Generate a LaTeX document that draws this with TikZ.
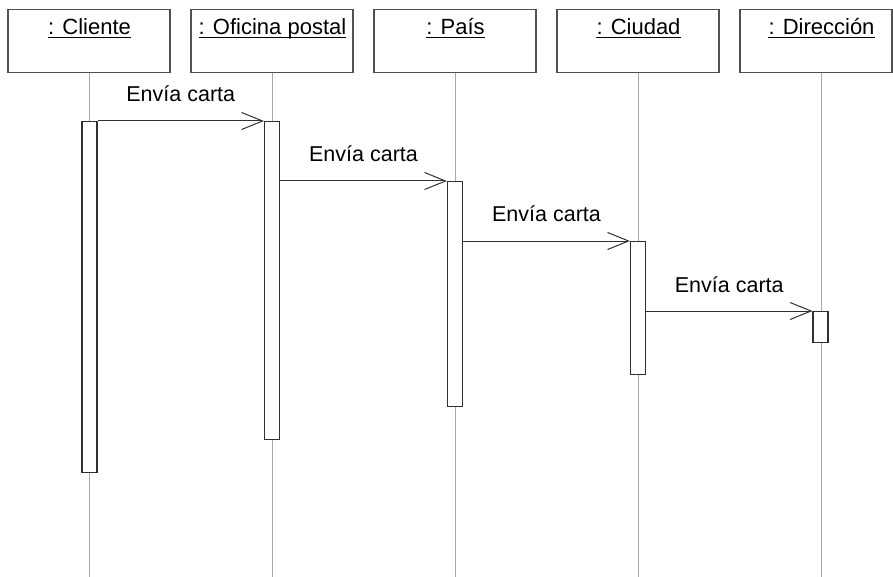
\documentclass[tikz,border=0pt]{standalone}
\usepackage{fontspec}
\setmainfont{Liberation Sans}
\usetikzlibrary{arrows.meta}

\definecolor{boxline}{HTML}{505050}
\definecolor{lifeline}{HTML}{A8A8A8}
\definecolor{barline}{HTML}{303030}

\tikzset{
  head/.style={draw=boxline, line width=1.2pt, fill=white, anchor=north, minimum height=63pt, inner sep=0pt},
  title/.style={anchor=base, inner sep=0pt, font=\fontsize{22}{26}\selectfont},
  life/.style={draw=lifeline, line width=1pt},
  actbar/.style={draw=barline, line width=1.2pt, fill=white, anchor=north, minimum width=15pt, inner sep=0pt},
  msg/.style={draw=barline, line width=1pt, -{Straight Barb[length=21pt,width=17pt,line width=1pt]}},
  msglabel/.style={midway, anchor=base, yshift=19pt, inner sep=0pt, font=\fontsize{21.5}{25}\selectfont}
}

\begin{document}
\begin{tikzpicture}[x=1pt,y=-1pt]
  \useasboundingbox (0,0) rectangle (893,577);

  % objects and their lifelines (lifeline x / box centre / box width)
  \foreach \n/\x/\bx/\w/\t in {cl/89.5/89/162/{: Cliente}, of/272.5/272/162/{: Oficina postal},
                               pa/455.5/455/162/{: País}, ci/638.5/638/162/{: Ciudad},
                               di/821.5/816/152/{: Dirección}} {
    \node[head, minimum width=\w pt] (\n) at (\bx,9) {};
    \node[title] (t\n) at (\x,35) {\t};
    \draw[line width=1.3pt] ([yshift=-2.6pt]t\n.base west) -- ([yshift=-2.6pt]t\n.base east);
    \coordinate (e\n) at (\x,577);
    \draw[life] (\n.south -| e\n) -- (e\n);
  }

  % activation bars
  \node[actbar, minimum height=351pt] (bcl) at (89.5,121) {};
  \node[actbar, minimum height=318pt] (bof) at (272,121) {};
  \node[actbar, minimum height=225pt] (bpa) at (455,181) {};
  \node[actbar, minimum height=133pt] (bci) at (638,241) {};
  \node[actbar, minimum height=31pt]  (bdi) at (820.5,311) {};

  % messages
  \draw[msg] (bcl.north east) -- (bof.north west) node[msglabel] {Envía carta};
  \draw[msg] (bof.east |- bpa.north) -- (bpa.north west) node[msglabel] {Envía carta};
  \draw[msg] (bpa.east |- bci.north) -- (bci.north west) node[msglabel] {Envía carta};
  \draw[msg] (bci.east |- bdi.north) -- (bdi.north west) node[msglabel] {Envía carta};
\end{tikzpicture}
\end{document}
